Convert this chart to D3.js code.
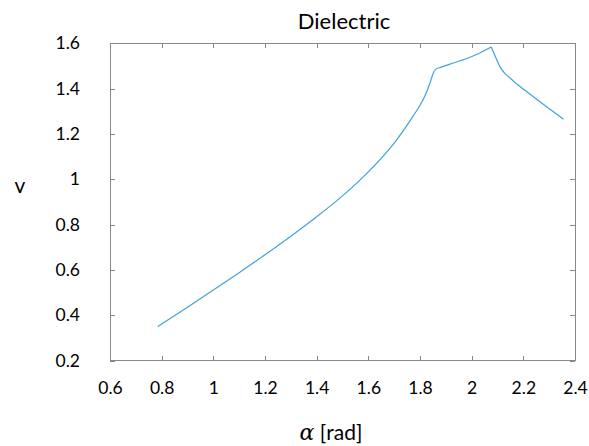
<!DOCTYPE html>
<html>
<head>
<meta charset="utf-8">
<script src="https://cdn.jsdelivr.net/npm/d3@7"></script>
<style>
  html, body { margin: 0; padding: 0; background: #fff; }
  svg { display: block; font-family: Lato, "Open Sans", sans-serif; }
</style>
</head>
<body>
<svg id="chart" width="589" height="446"></svg>
<script>
const titleText = "Dielectric";
const xLabel = "[rad]";
const yLabel = "v";
const alpha = [0.785, 0.9, 1.0, 1.1, 1.2, 1.3, 1.4, 1.5, 1.6, 1.7, 1.774, 1.800, 1.819, 1.839, 1.852, 1.862, 1.880, 1.916, 1.981, 2.032, 2.068, 2.075, 2.081, 2.090, 2.100, 2.110, 2.125, 2.145, 2.161, 2.226, 2.290, 2.356];
const vValues = [0.350, 0.435, 0.511, 0.588, 0.667, 0.749, 0.835, 0.927, 1.033, 1.160, 1.280, 1.327, 1.368, 1.426, 1.470, 1.486, 1.494, 1.508, 1.533, 1.557, 1.579, 1.583, 1.569, 1.546, 1.520, 1.496, 1.472, 1.450, 1.434, 1.375, 1.320, 1.265];
const xTicks = [0.6, 0.8, 1.0, 1.2, 1.4, 1.6, 1.8, 2.0, 2.2, 2.4];
const yTicks = [0.2, 0.4, 0.6, 0.8, 1.0, 1.2, 1.4, 1.6];

const W = 589, H = 446;
const m = { left: 110, right: 14, top: 43.3, bottom: 85.4 };
const svg = d3.select("#chart");
const x = d3.scaleLinear().domain([0.6, 2.4]).range([m.left, W - m.right]);
const y = d3.scaleLinear().domain([0.2, 1.6]).range([H - m.bottom, m.top]);
const fmt = d => (Math.round(d * 10) / 10).toString();
const frameColor = "#888";
const tl = 5;

function styleAxis(g) {
  g.select(".domain").remove();
  g.selectAll(".tick line").attr("stroke", frameColor).attr("shape-rendering", "crispEdges");
  g.selectAll(".tick text").attr("fill", "#000").style("font-size", "17.5px").style("font-family", "Lato, 'Open Sans', sans-serif");
}

svg.append("g").attr("transform", `translate(0,${y(0.2)})`)
  .call(d3.axisBottom(x).tickValues(xTicks).tickFormat(fmt).tickSizeInner(-tl).tickSizeOuter(0).tickPadding(21))
  .call(styleAxis);
svg.append("g").attr("transform", `translate(0,${y(1.6)})`)
  .call(d3.axisTop(x).tickValues(xTicks).tickFormat("").tickSizeInner(-tl).tickSizeOuter(0))
  .call(styleAxis);
svg.append("g").attr("transform", `translate(${x(0.6)},0)`)
  .call(d3.axisLeft(y).tickValues(yTicks).tickFormat(fmt).tickSizeInner(-tl).tickSizeOuter(0).tickPadding(30))
  .call(styleAxis);
svg.append("g").attr("transform", `translate(${x(2.4)},0)`)
  .call(d3.axisRight(y).tickValues(yTicks).tickFormat("").tickSizeInner(-tl).tickSizeOuter(0))
  .call(styleAxis);

svg.append("rect")
  .attr("x", x(0.6)).attr("y", y(1.6))
  .attr("width", x(2.4) - x(0.6)).attr("height", y(0.2) - y(1.6))
  .attr("fill", "none").attr("stroke", frameColor).attr("stroke-width", 1)
  .attr("shape-rendering", "crispEdges");

const pts = alpha.map((a, i) => [a, vValues[i]]);
const line = d3.line().x(d => x(d[0])).y(d => y(d[1])).curve(d3.curveMonotoneX);
svg.append("path").datum(pts)
  .attr("d", line)
  .attr("fill", "none")
  .attr("stroke", "#41a2dd")
  .attr("stroke-width", 1.2);

svg.append("text").attr("x", 344).attr("y", 28.5)
  .attr("text-anchor", "middle").style("font-size", "22px").attr("fill", "#000")
  .text(titleText);

svg.append("text").attr("x", 20).attr("y", 192.5)
  .attr("text-anchor", "middle").style("font-size", "21px").attr("fill", "#000")
  .text(yLabel);

const xl = svg.append("text").attr("x", 331).attr("y", 440)
  .attr("text-anchor", "middle").style("font-size", "21px").attr("fill", "#000");
xl.append("tspan").style("font-family", "'DejaVu Serif', 'Liberation Serif', serif").style("font-style", "italic").style("font-size", "22px").text("α");
xl.append("tspan").text(" " + xLabel);
</script>
</body>
</html>
